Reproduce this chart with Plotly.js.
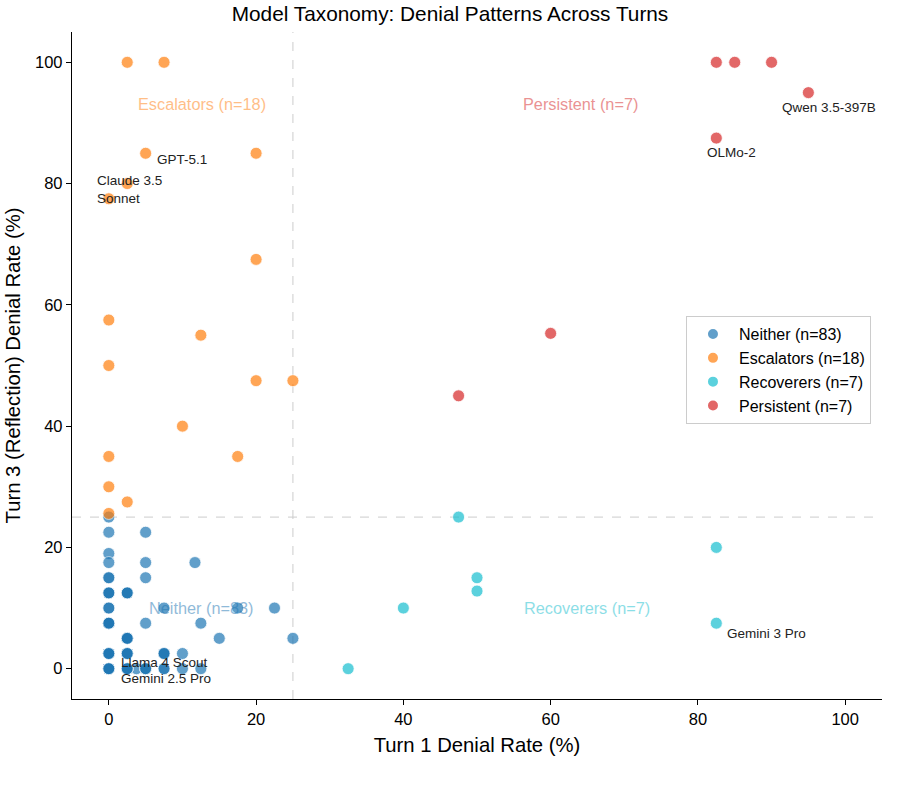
<!DOCTYPE html>
<html>
<head>
<meta charset="utf-8">
<script src="https://cdn.plot.ly/plotly-3.0.1.min.js"></script>
<style>html,body{margin:0;padding:0;background:#fff;}#chart{width:900px;height:789px;}</style>
</head>
<body>
<div id="chart"></div>
<script>
// ---- Data ----
const neitherX = [0,0,5,0,0,5,11.7,0,5,0,2.5,0,7.5,17.5,22.5,0,5,12.5,2.5,15,25,0,2.5,7.5,10,0,2.5,3.75,5,7.5,10,12.5,
  0,0,0,0,0,0,0,0,0,0,0,0,0,0,0,0,0,0,0,0,0,0,0,0,
  0,0,0,0, 2.5,2.5,2.5, 2.5,2.5,2.5, 0,0,0, 0,0, 2.5,2.5, 2.5,2.5,2.5, 7.5,7.5, 5,5, 7.5, 0, 0];
const neitherY = [25,22.5,22.5,19,17.5,17.5,17.5,15,15,12.5,12.5,10,10,10,10,7.5,7.5,7.5,5,5,5,2.5,2.5,2.5,2.5,0,0,0,0,0,0,0,
  0,0,0,0,0,0,0,0,0,0,0,0,0,0,0,0,0,0,0,0,0,0,0,0,
  2.5,2.5,2.5,2.5, 2.5,2.5,2.5, 0,0,0, 7.5,7.5,7.5, 12.5,12.5, 12.5,12.5, 5,5,5, 2.5,2.5, 0,0, 0, 10, 15];
const escX = [2.5,7.5,5,20,2.5,0,20,0,12.5,0,20,25,10,0,17.5,0,2.5,0];
const escY = [100,100,85,85,80,77.5,67.5,57.5,55,50,47.5,47.5,40,35,35,30,27.5,25.6];
const recX = [47.5,82.5,50,50,40,82.5,32.5];
const recY = [25,20,15,12.8,10,7.5,0];
const perX = [82.5,85,90,95,82.5,60,47.5];
const perY = [100,100,100,95,87.5,55.3,45];

const groupNames = ["Neither (n=83)","Escalators (n=18)","Recoverers (n=7)","Persistent (n=7)"];
const groupColors = ["#1f77b4","#ff7f0e","#17becf","#d62728"];
const threshold = 25;

// group label annotations (text, x, y)
const groupLabelX = [12.6, 12.6, 65, 64];
const groupLabelY = [10, 93.2, 10, 93.2];

// model labels: name, point x, point y, xshift, yshift
const modelNames = ["GPT-5.1","Claude 3.5<br>Sonnet","Qwen 3.5-397B","OLMo-2","Gemini 3 Pro","Llama 4 Scout","Gemini 2.5 Pro"];
const modelX = [5,0,95,82.5,82.5,0,0];
const modelY = [85,77.5,95,87.5,7.5,0,0];
const modelDX = [9,-14,-28,-11,9,10,10];
const modelDY = [-6,9,-15,-14,-10,6,-10];

const font = "Liberation Sans, Arial, Helvetica, sans-serif";

function trace(x,y,i){
  return {x:x,y:y,type:'scatter',mode:'markers',name:groupNames[i],
    marker:{color:groupColors[i],size:12,opacity:0.7,line:{color:'white',width:0.8}}};
}
const data = [trace(neitherX,neitherY,0),trace(escX,escY,1),trace(recX,recY,2),trace(perX,perY,3)];

const annotations = [];
[0,1,2,3].forEach(i=>{
  annotations.push({x:groupLabelX[i],y:groupLabelY[i],xref:'x',yref:'y',text:groupNames[i],showarrow:false,
    font:{family:font,size:16.3,color:groupColors[i]},opacity:0.5,xanchor:'center',yanchor:'middle'});
});
modelNames.forEach((n,i)=>{
  annotations.push({x:modelX[i],y:modelY[i],xref:'x',yref:'y',text:n,showarrow:false,align:'left',
    xanchor:'left',yanchor:'middle',xshift:modelDX[i],yshift:modelDY[i],
    font:{family:font,size:13.5,color:'#222'}});
});

const axisCommon = {range:[-5,105],tickvals:[0,20,40,60,80,100],showgrid:false,zeroline:false,showline:true,linecolor:'#000',linewidth:1.2,
    ticks:'outside',ticklen:5,tickcolor:'#000',tickfont:{family:font,size:16.5,color:'#000'}};

const layout = {
  width:900,height:789,
  paper_bgcolor:'white',plot_bgcolor:'white',
  margin:{l:72,r:18,t:32,b:90},
  title:{text:'Model Taxonomy: Denial Patterns Across Turns',font:{family:font,size:20.8,color:'#000'},x:0.5,xanchor:'center',y:0.982,yanchor:'middle'},
  xaxis:Object.assign({},axisCommon,{title:{text:'Turn 1 Denial Rate (%)',font:{family:font,size:20.3,color:'#000'},standoff:10}}),
  yaxis:Object.assign({},axisCommon,{title:{text:'Turn 3 (Reflection) Denial Rate (%)',font:{family:font,size:20.3,color:'#000'},standoff:8}}),
  shapes:[
    {type:'line',xref:'x',yref:'paper',x0:threshold,x1:threshold,y0:0,y1:1,line:{color:'#cccccc',width:1,dash:'dash'},layer:'below'},
    {type:'line',xref:'paper',yref:'y',x0:0,x1:1,y0:threshold,y1:threshold,line:{color:'#cccccc',width:1,dash:'dash'},layer:'below'}
  ],
  legend:{x:0.758,y:0.574,xanchor:'left',yanchor:'top',bgcolor:'white',bordercolor:'#cccccc',borderwidth:1,
    font:{family:font,size:16,color:'#000'},itemwidth:42,itemsizing:'constant'},
  annotations:annotations,
  showlegend:true
};
Plotly.newPlot('chart',data,layout,{displayModeBar:false,staticPlot:true});
</script>
</body>
</html>
